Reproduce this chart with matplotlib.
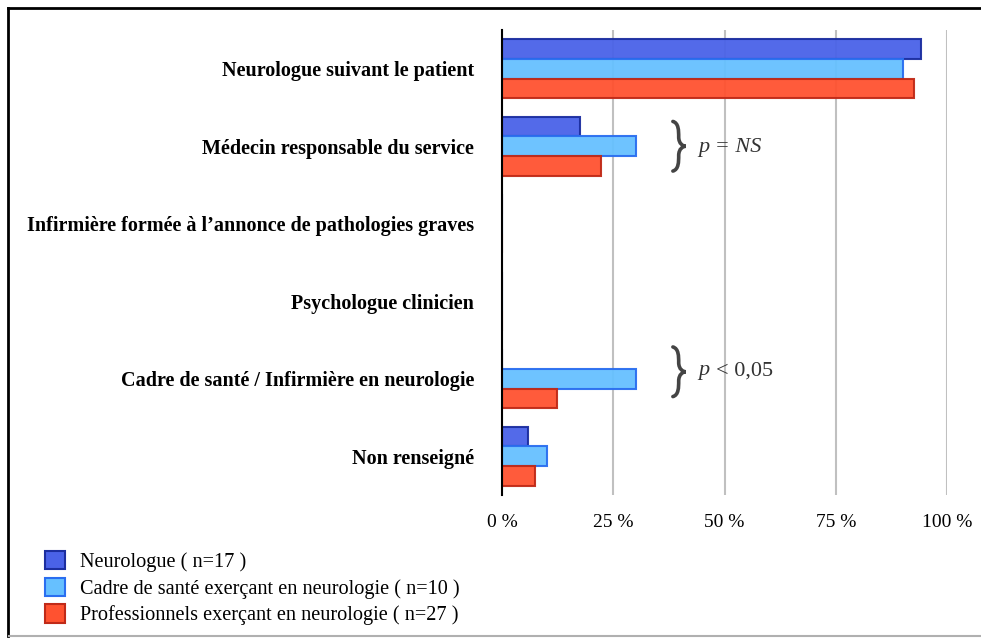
import numpy as np
import matplotlib.pyplot as plt
from matplotlib.patches import Patch, PathPatch
from matplotlib.path import Path
from matplotlib.lines import Line2D

categories = [
    "Neurologue suivant le patient",
    "Médecin responsable du service",
    "Infirmière formée à l\u2019annonce de pathologies graves",
    "Psychologue clinicien",
    "Cadre de santé / Infirmière en neurologie",
    "Non renseigné",
]
neurologue = [94.1, 17.6, 0, 0, 0, 5.9]
cadre = [90.0, 30.0, 0, 0, 30.0, 10.0]
professionnels = [92.6, 22.2, 0, 0, 12.4, 7.4]

series_labels = [
    "Neurologue ( n=17 )",
    "Cadre de santé exerçant en neurologie ( n=10 )",
    "Professionnels exerçant en neurologie ( n=27 )",
]
xticks = [0, 25, 50, 75, 100]
xtick_labels = ["0 %", "25 %", "50 %", "75 %", "100 %"]

fills = ["#4a62e8", "#66c0ff", "#ff5230"]
edges = ["#1c2ea0", "#2a6ef0", "#c02a18"]

plt.rcParams['font.family'] = ['Liberation Serif', 'DejaVu Serif']


def brace(ax, x0, c, w=2.9, half=0.32):
    # curly brace "}" opening to the left, tip pointing right at (x0 + w, c)
    m = 0.45 * w
    verts = [
        (x0, c - half),
        (x0 + m, c - half + 0.02), (x0 + m, c - 0.2), (x0 + m, c - 0.12),
        (x0 + m, c - 0.03), (x0 + 0.8 * w, c), (x0 + w, c),
        (x0 + 0.8 * w, c), (x0 + m, c + 0.03), (x0 + m, c + 0.12),
        (x0 + m, c + 0.2), (x0 + m, c + half - 0.02), (x0, c + half),
    ]
    codes = [Path.MOVETO] + [Path.CURVE4] * 12
    ax.add_patch(PathPatch(Path(verts, codes), fill=False, edgecolor='#444444',
                           linewidth=2.6, capstyle='round', zorder=5))


fig = plt.figure(figsize=(9.81, 6.39), dpi=100)
ax = fig.add_axes([502 / 981, 1 - 495 / 639, 445 / 981, 465 / 639])

y = np.arange(len(categories))
h = 0.255
for i, vals in enumerate([neurologue, cadre, professionnels]):
    ax.barh(y + (i - 1) * h, vals, height=h, color=fills[i], edgecolor=edges[i],
            linewidth=1.5, alpha=0.95, zorder=3)

ax.set_xlim(0, 100)
ax.set_ylim(len(categories) - 0.5, -0.5)
ax.set_xticks(xticks)
ax.set_xticklabels(xtick_labels, fontsize=14)
ax.set_yticks(y)
ax.set_yticklabels(categories, fontsize=14.5, fontweight='bold')
ax.tick_params(axis='both', length=0)
ax.tick_params(axis='x', pad=14)
ax.tick_params(axis='y', pad=20)
ax.xaxis.grid(True, color='#c0c0c0', linewidth=1.5, zorder=1)
ax.set_axisbelow(True)
for s in ['top', 'right', 'bottom']:
    ax.spines[s].set_visible(False)
ax.spines['left'].set_linewidth(1.5)
ax.spines['left'].set_zorder(4)

# p-value annotations
brace(ax, 38.4, 1.0)
ax.text(44.2, 1.01, "p = NS", fontsize=16, style='italic', color='#333333', va='center')
brace(ax, 38.4, 3.91)
ax.text(44.2, 3.9, "p", fontsize=16, style='italic', color='#333333', va='center')
ax.text(48.0, 3.9, "< 0,05", fontsize=16, color='#333333', va='center')

handles = [Patch(facecolor=fills[i], edgecolor=edges[i], linewidth=1.5) for i in range(3)]
fig.legend(handles, series_labels, loc='upper left', bbox_to_anchor=(45 / 981, 1 - 551 / 639),
           frameon=False, fontsize=14.6, handlelength=1.0, handleheight=1.0,
           handletextpad=0.75, labelspacing=0.28, borderaxespad=0, borderpad=0)

# frame around the figure
fig.add_artist(Line2D([8 / 981, 8 / 981], [3 / 639, 1 - 8 / 639], transform=fig.transFigure,
                      color='black', linewidth=2))
fig.add_artist(Line2D([8 / 981, 1], [1 - 8 / 639, 1 - 8 / 639], transform=fig.transFigure,
                      color='black', linewidth=2))
fig.add_artist(Line2D([9 / 981, 1], [3 / 639, 3 / 639], transform=fig.transFigure,
                      color='#b0b0b0', linewidth=1.5))

fig.savefig('out.png', dpi=100)
